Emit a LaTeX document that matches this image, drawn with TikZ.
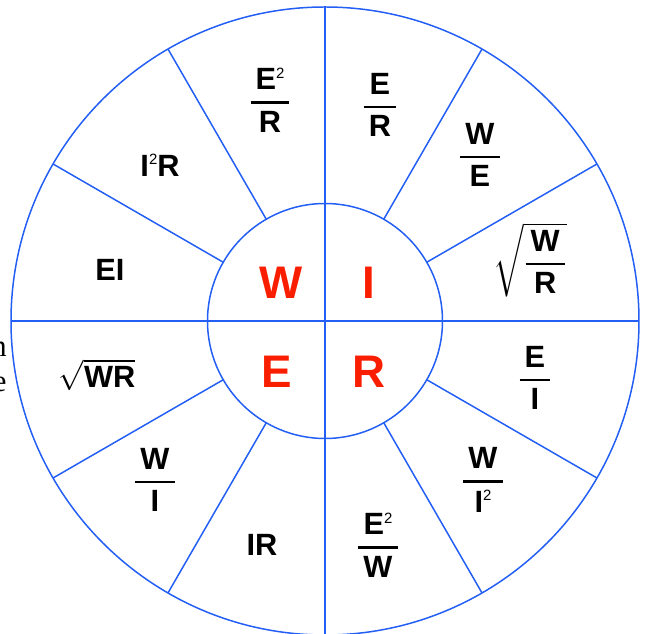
\documentclass[tikz,border=0pt]{standalone}
\usepackage{amsmath}
\usepackage{fontspec}
\setmainfont{Liberation Sans}
\newfontfamily\pageserif{Liberation Serif}
\usepackage{xcolor}
\usepackage{tikz}
\usetikzlibrary{positioning}

\definecolor{wheelblue}{RGB}{35,95,245}
\definecolor{wheelred}{RGB}{250,30,0}

\newcommand{\frc}[2]{\genfrac{}{}{1.4pt}{0}{\,\text{#1}\,}{\,\text{#2}\,}}
\newcommand{\sqtwo}{\raisebox{6.6pt}{\fontsize{8.5}{9}\selectfont\mdseries 2}}

\begin{document}
\begin{tikzpicture}[
  font=\fontsize{17.5}{21}\selectfont\bfseries,
  ring/.style={draw=wheelblue,line width=0.85pt},
  qty/.style={font=\fontsize{26}{30}\selectfont\bfseries,text=wheelred,inner sep=0pt},
  frm/.style={inner sep=1pt,text=black},
  stray/.style={font=\pageserif\fontsize{17.5}{21}\selectfont,inner sep=0pt,
                anchor=base east}]

\useasboundingbox (-6.5,-6.26) rectangle (6.4,6.42);

% ---- wheel ------------------------------------------------------------
\draw[ring] (0,0) circle (6.28);
\draw[ring] (0,0) circle (2.35);
\draw[ring] (0,6.28) -- (0,-6.28);
\draw[ring] (-6.28,0) -- (6.28,0);
\draw[ring] (30:2.35) -- (30:6.28);
\draw[ring] (60:2.35) -- (60:6.28);
\draw[ring] (120:2.35) -- (120:6.28);
\draw[ring] (150:2.35) -- (150:6.28);
\draw[ring] (210:2.35) -- (210:6.28);
\draw[ring] (240:2.35) -- (240:6.28);
\draw[ring] (300:2.35) -- (300:6.28);
\draw[ring] (330:2.35) -- (330:6.28);

% ---- quantities -------------------------------------------------------
\node[qty] (w) at (-0.88, 0.76) {W};
\node[qty] (i) at ( 0.88, 0.76) {I};
\node[qty] (e) at (-0.96,-1.02) {E};
\node[qty] (r) at ( 0.88,-1.02) {R};

% ---- formulas ---------------------------------------------------------
\node[frm] (esqr)  at (-1.10, 4.42) {$\frc{E\sqtwo}{R}$};
\node[frm] (eovr)  at ( 1.10, 4.32) {$\frc{E}{R}$};
\node[frm] (wove)  at ( 3.10, 3.32) {$\frc{W}{E}$};
\node[frm] (rtwr)  at ( 4.10, 1.22) {$\sqrt{\frc{W}{R}}$};
\node[frm] (eovi)  at ( 4.20,-1.14) {$\frc{E}{I}$};
\node[frm] (wisq)  at ( 3.16,-3.18) {$\frc{W}{I\sqtwo}$};
\node[frm] (esqw)  at ( 1.06,-4.48) {$\frc{E\sqtwo}{W}$};
\node[frm] (itr)   at (-1.26,-4.48) {IR};
\node[frm] (wovi)  at (-3.40,-3.18) {$\frc{W}{I}$};
\node[frm] (rtwr2) at (-4.56,-1.08) {$\sqrt{\text{WR}}$};
\node[frm] (eti)   at (-4.30, 1.02) {EI};
\node[frm] (isqr)  at (-3.30, 3.12) {I\sqtwo R};

% ---- page margin ------------------------------------------------------
\node[stray] (mn) at (-6.36,-0.72) {n};
\node[stray] (me) at (-6.36,-1.42) {e};
\end{tikzpicture}
\end{document}
